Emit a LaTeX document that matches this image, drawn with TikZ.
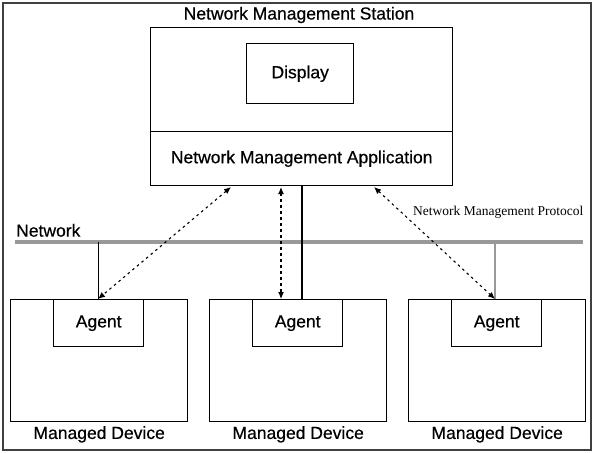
\documentclass[tikz,border=0pt]{standalone}
\usepackage{fontspec}
\setmainfont{Liberation Sans}
\newfontfamily\lblfont[FakeBold=0.5]{Liberation Sans}
\newfontfamily\protofont{Liberation Serif}
\usetikzlibrary{positioning,calc,arrows.meta}

\tikzset{
  box/.style={draw, line width=1.4pt, inner sep=0pt},
  lbl/.style={font=\lblfont\fontsize{17.5}{20}\selectfont},
  device/.style={box, minimum width=177pt, minimum height=122pt, anchor=north west},
  agentbox/.style={box, lbl, minimum width=90pt, minimum height=47pt, anchor=north west},
  nmp/.style={line width=1.1pt, dash pattern=on 2.5pt off 3.5pt,
    {Latex[length=7pt,width=6pt]}-{Latex[length=7pt,width=6pt]}},
  netline/.style={draw=gray!80, line width=3.5pt}
}

\begin{document}
\begin{tikzpicture}[x=1pt,y=-1pt]
\useasboundingbox (0,0) rectangle (601,452);
\draw[line width=1.6pt, black!75] (3,3) rectangle (591,450);

% station
\node[lbl] (title) at (299,15) {Network Management Station};
\node[box, minimum width=302pt, minimum height=158pt, anchor=north west] (nms) at (150,27) {};
\node[box, lbl, minimum width=302pt, minimum height=54pt, anchor=south] (app) at (nms.south) {Network Management Application};
\node[box, lbl, minimum width=107pt, minimum height=60pt, anchor=north west] (disp) at (246,43) {Display};

% network
\coordinate (netL) at (15,242);
\coordinate (netR) at (583,242);
\draw[netline] (netL) -- (netR);
\node[lbl, anchor=south west, inner sep=0pt] (netlbl) at (16,237) {Network};

% managed devices
\foreach \i/\x in {1/10, 2/209, 3/408} {
  \node[device] (dev\i) at (\x,299) {};
  \node[agentbox] (ag\i) at (\x+43,299) {Agent};
  \node[lbl] (md\i) at ($(dev\i.south)+(0,12)$) {Managed Device};
}

% links to the network
\coordinate (tap1) at (98,242);
\coordinate (tap3) at (495,242);
\draw[line width=0.9pt] (tap1) -- (tap1 |- ag1.north);
\draw[line width=2.6pt, gray!80] (tap3) -- (tap3 |- ag3.north);
\coordinate (nmsdrop) at (302,185);
\draw[line width=1.8pt] (nmsdrop) -- (nmsdrop |- ag2.north);

% management protocol
\coordinate (p1) at (231,187);
\coordinate (p2) at (281,187);
\coordinate (p3) at (374,187);
\draw[nmp] (p1) -- (tap1 |- ag1.north);
\draw[nmp] (p2) -- (p2 |- ag2.north);
\draw[nmp] (p3) -- (tap3 |- ag3.north);
\node[font=\protofont\fontsize{13.5}{16}\selectfont, anchor=west, inner sep=0pt] (proto) at (413,212) {Network Management Protocol};

\end{tikzpicture}
\end{document}
